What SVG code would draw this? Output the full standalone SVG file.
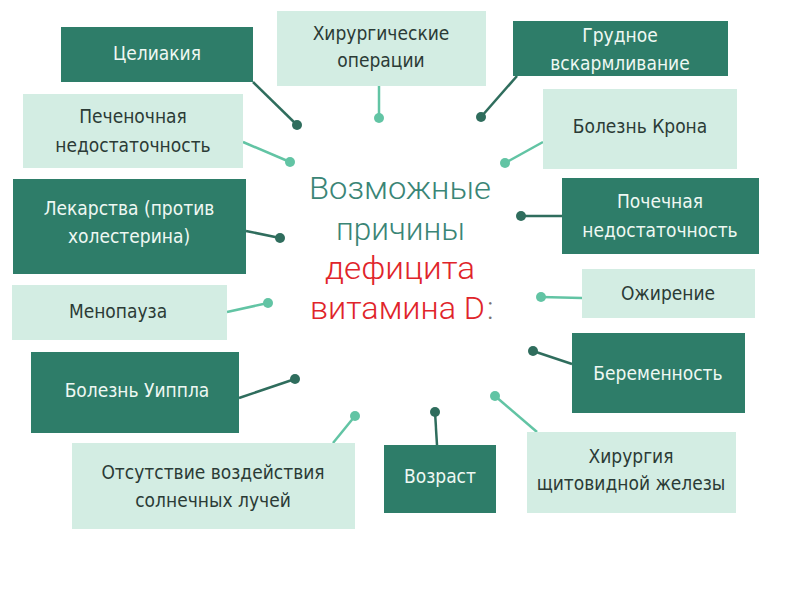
<svg xmlns="http://www.w3.org/2000/svg" width="800" height="600" viewBox="0 0 800 600">
<style>
.dk rect{fill:#2e7d69}
.lt rect{fill:#d3ede3}
.dk text{fill:#eef8f3}
.lt text{fill:#2b3b36}
text{font-family:"DejaVu Sans Condensed","Liberation Sans Narrow","DejaVu Sans",sans-serif;font-size:19px;text-anchor:middle}
.cl{stroke:#62c4a4;stroke-width:2.5;fill:none}
.cd{stroke:#2f6d5d;stroke-width:2.5;fill:none}
.dl{fill:#62c4a4}
.dd{fill:#2f6d5d}
.title{font-family:Roboto,"DejaVu Sans",sans-serif;font-weight:300;font-size:31px;text-anchor:start}
</style>
<rect width="800" height="600" fill="#ffffff"/>
<g id="connectors">
<line class="cd" x1="253" y1="82" x2="297" y2="125"/><circle class="dd" cx="297" cy="125" r="5"/>
<line class="cl" x1="379" y1="86" x2="379" y2="118"/><circle class="dl" cx="379" cy="118" r="5"/>
<line class="cd" x1="517" y1="76" x2="481" y2="117"/><circle class="dd" cx="481" cy="117" r="5"/>
<line class="cl" x1="243" y1="142" x2="290" y2="162"/><circle class="dl" cx="290" cy="162" r="5"/>
<line class="cl" x1="543" y1="142" x2="505" y2="163"/><circle class="dl" cx="505" cy="163" r="5"/>
<line class="cd" x1="246" y1="231" x2="280" y2="238"/><circle class="dd" cx="280" cy="238" r="5"/>
<line class="cd" x1="562" y1="216" x2="521" y2="216"/><circle class="dd" cx="521" cy="216" r="5"/>
<line class="cl" x1="227" y1="312" x2="268" y2="303"/><circle class="dl" cx="268" cy="303" r="5"/>
<line class="cl" x1="582" y1="298" x2="541" y2="297"/><circle class="dl" cx="541" cy="297" r="5"/>
<line class="cd" x1="239" y1="398" x2="295" y2="379"/><circle class="dd" cx="295" cy="379" r="5"/>
<line class="cd" x1="572" y1="364" x2="533" y2="351"/><circle class="dd" cx="533" cy="351" r="5"/>
<line class="cl" x1="333" y1="443" x2="355" y2="416"/><circle class="dl" cx="355" cy="416" r="5"/>
<line class="cd" x1="437" y1="445" x2="435" y2="412"/><circle class="dd" cx="435" cy="412" r="5"/>
<line class="cl" x1="537" y1="432" x2="495" y2="396"/><circle class="dl" cx="495" cy="396" r="5"/>
</g>
<g id="title">
<text class="title" x="309" y="199" fill="#3a8576" textLength="182" lengthAdjust="spacingAndGlyphs">Возможные</text>
<text class="title" x="336" y="240" fill="#3a8576" textLength="129" lengthAdjust="spacingAndGlyphs">причины</text>
<text class="title" x="325" y="279" fill="#e0242a" textLength="150" lengthAdjust="spacingAndGlyphs">дефицита</text>
<text class="title" x="310" y="319" fill="#e0242a" textLength="175" lengthAdjust="spacingAndGlyphs">витамина D</text>
<text class="title" x="487" y="319" fill="#7a6f70">:</text>
</g>
<g id="n1" class="dk"><rect x="61" y="27" width="192" height="55"/><text x="157" y="60">Целиакия</text></g>
<g id="n2" class="lt"><rect x="277" y="11" width="209" height="75"/><text x="381" y="40">Хирургические</text><text x="381" y="67">операции</text></g>
<g id="n3" class="dk"><rect x="513" y="21" width="215" height="55"/><text x="620" y="42">Грудное</text><text x="620" y="70">вскармливание</text></g>
<g id="n4" class="lt"><rect x="23" y="94" width="220" height="74"/><text x="133" y="123">Печеночная</text><text x="133" y="152">недостаточность</text></g>
<g id="n5" class="lt"><rect x="543" y="89" width="194" height="80"/><text x="640" y="133">Болезнь Крона</text></g>
<g id="n6" class="dk"><rect x="13" y="179" width="233" height="95"/><text x="129" y="215">Лекарства (против</text><text x="129" y="243">холестерина)</text></g>
<g id="n7" class="dk"><rect x="562" y="178" width="197" height="76"/><text x="660" y="208">Почечная</text><text x="660" y="237">недостаточность</text></g>
<g id="n8" class="lt"><rect x="12" y="285" width="215" height="55"/><text x="118" y="318">Менопауза</text></g>
<g id="n9" class="lt"><rect x="582" y="269" width="173" height="49"/><text x="668" y="300">Ожирение</text></g>
<g id="n10" class="dk"><rect x="31" y="352" width="208" height="81"/><text x="137" y="397">Болезнь Уиппла</text></g>
<g id="n11" class="dk"><rect x="572" y="333" width="173" height="80"/><text x="658" y="380">Беременность</text></g>
<g id="n12" class="lt"><rect x="72" y="443" width="283" height="86"/><text x="213" y="479">Отсутствие воздействия</text><text x="213" y="507">солнечных лучей</text></g>
<g id="n13" class="dk"><rect x="384" y="445" width="112" height="68"/><text x="440" y="483">Возраст</text></g>
<g id="n14" class="lt"><rect x="527" y="432" width="209" height="81"/><text x="631" y="463">Хирургия</text><text x="631" y="490">щитовидной железы</text></g>
</svg>
